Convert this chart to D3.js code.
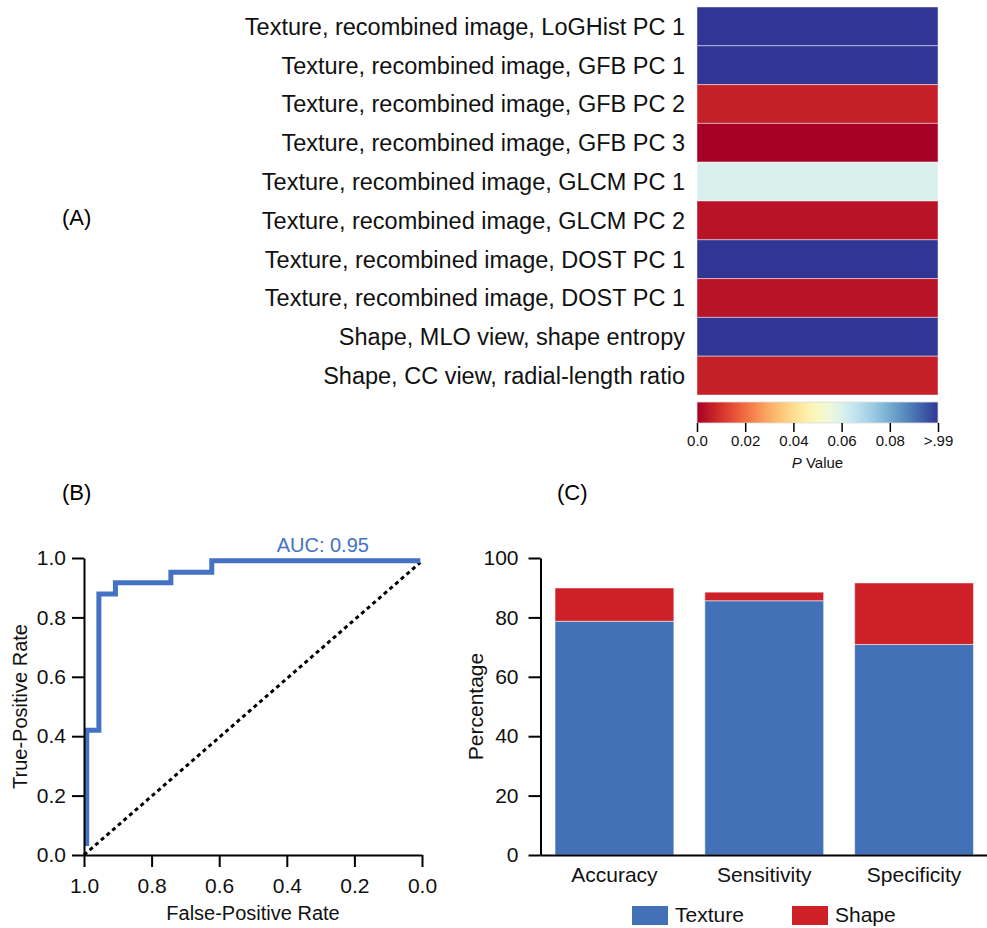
<!DOCTYPE html>
<html>
<head>
<meta charset="utf-8">
<script src="https://cdn.jsdelivr.net/npm/d3@7"></script>
<style>
  body { margin: 0; background: #fff; }
  svg { font-family: "Liberation Sans", Arial, sans-serif; }
</style>
</head>
<body>
<div id="wrapper"></div>
<script>
// 0. Data
const featureLabels = [
  "Texture, recombined image, LoGHist PC 1",
  "Texture, recombined image, GFB PC 1",
  "Texture, recombined image, GFB PC 2",
  "Texture, recombined image, GFB PC 3",
  "Texture, recombined image, GLCM PC 1",
  "Texture, recombined image, GLCM PC 2",
  "Texture, recombined image, DOST PC 1",
  "Texture, recombined image, DOST PC 1",
  "Shape, MLO view, shape entropy",
  "Shape, CC view, radial-length ratio"
]
const featurePValues = [0.995, 0.995, 0.0065, 0.0, 0.0605, 0.004, 0.995, 0.004, 0.995, 0.0065]
const pTicks = [0, 0.02, 0.04, 0.06, 0.08, 0.1]
const pTickLabels = ["0.0", "0.02", "0.04", "0.06", "0.08", ">.99"]

const rocFpr = [0.992, 0.992, 0.956, 0.956, 0.907, 0.907, 0.743, 0.743, 0.622, 0.622, 0.005]
const rocTpr = [0.03, 0.42, 0.42, 0.879, 0.879, 0.917, 0.917, 0.952, 0.952, 0.991, 0.991]
const chanceFpr = [1.0, 0.005]
const chanceTpr = [0.0, 0.985]
const rocTicks = [0, 0.2, 0.4, 0.6, 0.8, 1.0]
const aucLabel = "AUC: 0.95"

const metrics = ["Accuracy", "Sensitivity", "Specificity"]
const textureValues = [78.7, 85.6, 70.9]
const shapeValues = [11.2, 2.9, 20.7]
const seriesNames = ["Texture", "Shape"]
const pctTicks = [0, 20, 40, 60, 80, 100]

const blue = "#4271b8"
const red = "#ce2127"

// 1. Canvas
const svg = d3.select("#wrapper").append("svg")
  .attr("width", 987)
  .attr("height", 928)

// panel letters
svg.append("text").attr("x", 62).attr("y", 225).attr("font-size", 22).text("(A)")
svg.append("text").attr("x", 62).attr("y", 500).attr("font-size", 22).text("(B)")
svg.append("text").attr("x", 557).attr("y", 500).attr("font-size", 22).text("(C)")

// 2. Heatmap (A)
const colorScale = d3.scaleSequential(d3.interpolateRdYlBu)
  .domain([0, 0.1])
  .clamp(true)

const rowScale = d3.scaleBand()
  .domain(d3.range(featureLabels.length))
  .range([7, 395])

const heatX0 = 697, heatX1 = 938

const heat = svg.append("g")
heat.selectAll("rect")
  .data(featurePValues)
  .join("rect")
    .attr("x", heatX0)
    .attr("y", (d, i) => rowScale(i))
    .attr("width", heatX1 - heatX0)
    .attr("height", rowScale.bandwidth())
    .attr("fill", d => colorScale(d))
    .attr("stroke", "rgba(255,255,255,0.45)")
    .attr("stroke-width", 1)

heat.selectAll("text")
  .data(featureLabels)
  .join("text")
    .attr("x", 685)
    .attr("y", (d, i) => rowScale(i) + rowScale.bandwidth() / 2)
    .attr("dy", "0.36em")
    .attr("text-anchor", "end")
    .attr("font-size", 23.5)
    .attr("fill", "#111")
    .text(d => d)

// colour bar
const barScale = d3.scaleLinear().domain([0, 0.1]).range([heatX0, heatX1])
const grad = svg.append("defs").append("linearGradient").attr("id", "pgrad")
grad.selectAll("stop")
  .data(d3.range(0, 1.0001, 0.05))
  .join("stop")
    .attr("offset", d => d)
    .attr("stop-color", d => d3.interpolateRdYlBu(d))

svg.append("rect")
  .attr("x", heatX0).attr("y", 402)
  .attr("width", heatX1 - heatX0).attr("height", 21)
  .attr("fill", "url(#pgrad)")
  .attr("stroke", "#ddd").attr("stroke-width", 0.8)

const cbAxis = svg.append("g")
  .attr("transform", "translate(0,423)")
  .call(d3.axisBottom(barScale)
    .tickValues(pTicks)
    .tickFormat((d, i) => pTickLabels[i])
    .tickSize(9)
    .tickPadding(3))
cbAxis.select(".domain").remove()
cbAxis.selectAll("line").attr("stroke", "#000").attr("stroke-width", 1.5)
cbAxis.selectAll("text").attr("font-size", 15).attr("fill", "#111").attr("font-family", null)

const pLabel = svg.append("text")
  .attr("x", (heatX0 + heatX1) / 2).attr("y", 468)
  .attr("text-anchor", "middle").attr("font-size", 15).attr("fill", "#111")
pLabel.append("tspan").attr("font-style", "italic").text("P")
pLabel.append("tspan").text(" Value")

// 3. ROC curve (B)
const rocX = d3.scaleLinear().domain([1, 0]).range([84, 422])
const rocY = d3.scaleLinear().domain([0, 1]).range([855, 558])

const rocLine = d3.line()
  .x(d => rocX(d[0]))
  .y(d => rocY(d[1]))

svg.append("path")
  .attr("d", rocLine(d3.zip(chanceFpr, chanceTpr)))
  .attr("fill", "none")
  .attr("stroke", "#000")
  .attr("stroke-width", 3)
  .attr("stroke-dasharray", "4,3.5")

svg.append("path")
  .attr("d", rocLine(d3.zip(rocFpr, rocTpr)))
  .attr("fill", "none")
  .attr("stroke", "#4472c4")
  .attr("stroke-width", 5)

svg.append("text")
  .attr("x", rocX(0.43)).attr("y", 552)
  .attr("font-size", 20).attr("fill", "#4472c4")
  .text(aucLabel)

const rocXAxis = svg.append("g")
  .attr("transform", "translate(0,855)")
  .call(d3.axisBottom(rocX).tickValues(rocTicks).tickFormat(d3.format(".1f"))
    .tickSize(12).tickSizeOuter(0).tickPadding(11))
const rocYAxis = svg.append("g")
  .attr("transform", "translate(84,0)")
  .call(d3.axisLeft(rocY).tickValues(rocTicks).tickFormat(d3.format(".1f"))
    .tickSize(12).tickSizeOuter(0).tickPadding(6))

svg.append("text")
  .attr("x", rocX(0.5)).attr("y", 920)
  .attr("text-anchor", "middle").attr("font-size", 20).attr("fill", "#111")
  .text("False-Positive Rate")
svg.append("text")
  .attr("transform", `translate(27,${rocY(0.5)}) rotate(-90)`)
  .attr("text-anchor", "middle").attr("font-size", 20).attr("fill", "#111")
  .text("True-Positive Rate")

// 4. Stacked bars (C)
const xBand = d3.scaleBand()
  .domain(metrics)
  .range([540.5, 988])
  .paddingInner(0.207)
  .paddingOuter(0.097)
const yPct = d3.scaleLinear().domain([0, 100]).range([855, 558])

const stackData = metrics.map((m, i) => ({ metric: m, Texture: textureValues[i], Shape: shapeValues[i] }))
const stacked = d3.stack().keys(seriesNames)(stackData)
const seriesColor = d3.scaleOrdinal().domain(seriesNames).range([blue, red])

svg.append("g")
  .selectAll("g")
  .data(stacked)
  .join("g")
    .attr("fill", d => seriesColor(d.key))
  .selectAll("rect")
  .data(d => d)
  .join("rect")
    .attr("x", d => xBand(d.data.metric))
    .attr("y", d => yPct(d[1]))
    .attr("width", xBand.bandwidth())
    .attr("height", d => yPct(d[0]) - yPct(d[1]))
    .attr("stroke", "rgba(255,255,255,0.5)")
    .attr("stroke-width", 1)

const barXAxis = svg.append("g")
  .attr("transform", "translate(0,855)")
  .call(d3.axisBottom(xBand).tickSize(0).tickPadding(12))
const barYAxis = svg.append("g")
  .attr("transform", "translate(540.5,0)")
  .call(d3.axisLeft(yPct).tickValues(pctTicks).tickSize(12).tickSizeOuter(0).tickPadding(10))

barXAxis.selectAll("text").attr("font-size", 21)

svg.append("text")
  .attr("transform", `translate(483,${yPct(50)}) rotate(-90)`)
  .attr("text-anchor", "middle").attr("font-size", 21).attr("fill", "#111")
  .text("Percentage")

// shared axis styling
;[rocXAxis, rocYAxis, barXAxis, barYAxis].forEach(ax => {
  ax.attr("font-family", null)
  ax.selectAll(".domain").attr("stroke", "#000").attr("stroke-width", 2)
  ax.selectAll(".tick line").attr("stroke", "#000").attr("stroke-width", 2)
  ax.selectAll(".tick text").attr("fill", "#111")
})
;[rocXAxis, rocYAxis, barYAxis].forEach(ax => ax.selectAll(".tick text").attr("font-size", 21))

// legend
const legend = svg.append("g")
  .selectAll("g")
  .data(seriesNames)
  .join("g")
    .attr("transform", (d, i) => `translate(${632 + i * 160},906)`)
legend.append("rect")
  .attr("width", 36).attr("height", 19)
  .attr("fill", d => seriesColor(d))
legend.append("text")
  .attr("x", 43).attr("y", 16)
  .attr("font-size", 21).attr("fill", "#111")
  .text(d => d)
</script>
</body>
</html>
